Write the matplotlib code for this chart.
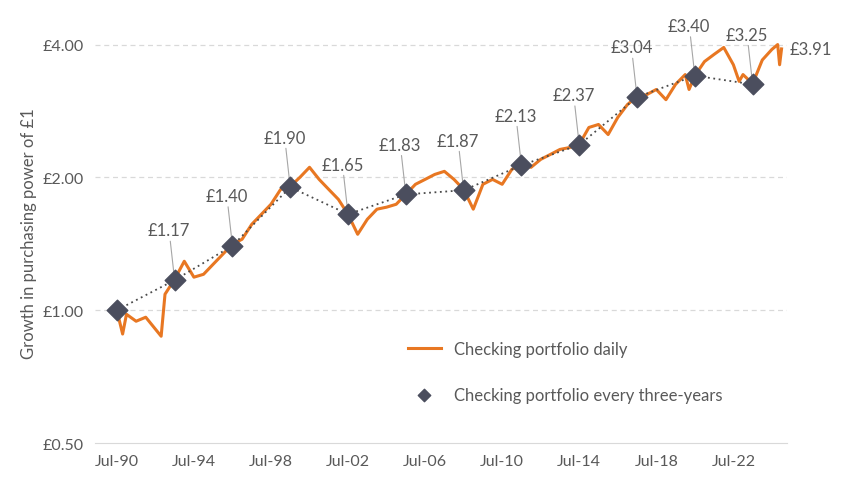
import matplotlib
matplotlib.use("Agg")
import matplotlib.pyplot as plt
from matplotlib.ticker import FixedLocator, NullLocator

# daily series (decimal years)
daily_t = [1990.5,1990.8,1991.0,1991.5,1992.0,1992.5,1992.8,1993.0,1993.5,1994.0,1994.5,1995.0,1995.5,
           1996.0,1996.5,1997.0,1997.5,1998.0,1998.5,1999.0,1999.5,2000.0,2000.5,2001.0,2001.5,2002.0,
           2002.5,2003.0,2003.5,2004.0,2004.5,2005.0,2005.5,2006.0,2006.5,2007.0,2007.5,2008.0,2008.5,
           2009.0,2009.3,2009.5,2010.0,2010.5,2011.0,2011.5,2012.0,2012.5,2013.0,2013.5,2014.0,2014.5,
           2015.0,2015.5,2016.0,2016.5,2017.0,2017.5,2018.0,2018.5,2019.0,2019.5,2020.0,2020.2,2020.5,
           2021.0,2021.5,2022.0,2022.5,2022.8,2023.0,2023.5,2024.0,2024.5,2024.8,2024.9,2025.0]
daily_v = [1.00,0.883,0.979,0.944,0.964,0.906,0.873,1.087,1.175,1.291,1.188,1.206,1.271,
           1.339,1.411,1.448,1.565,1.649,1.738,1.878,1.908,2.00,2.108,1.979,1.878,1.783,
           1.649,1.486,1.607,1.694,1.712,1.738,1.831,1.929,1.979,2.031,2.064,1.979,1.878,
           1.694,1.831,1.929,1.979,1.929,2.085,2.139,2.108,2.197,2.254,2.314,2.337,2.375,
           2.595,2.636,2.501,2.735,2.924,3.05,3.08,3.164,3.00,3.25,3.42,3.164,3.40,
           3.66,3.80,3.94,3.60,3.30,3.42,3.26,3.69,3.90,4.00,3.60,3.91]

tri_t = [1990.5,1993.5,1996.5,1999.5,2002.5,2005.5,2008.5,2011.5,2014.5,2017.5,2020.5,2023.5]
tri_v = [1.00,1.17,1.40,1.90,1.65,1.83,1.87,2.13,2.37,3.04,3.40,3.25]
tri_labels = ["", "£1.17","£1.40","£1.90","£1.65","£1.83","£1.87","£2.13","£2.37","£3.04","£3.40","£3.25"]
end_label = "£3.91"

xticks = [1990.5,1994.5,1998.5,2002.5,2006.5,2010.5,2014.5,2018.5,2022.5]
xticklabels = ["Jul-90","Jul-94","Jul-98","Jul-02","Jul-06","Jul-10","Jul-14","Jul-18","Jul-22"]
yticks = [0.5,1,2,4]
yticklabels = ["£0.50","£1.00","£2.00","£4.00"]

plt.rcParams['font.family'] = ['Lato', 'DejaVu Sans']
TXT = '#595959'
fig = plt.figure(figsize=(8.53,4.89), dpi=100)
ax = fig.add_axes([0.111, 0.092, 0.812, 0.861])
ax.set_yscale('log')
ax.set_ylim(0.5, 4.5)
ax.set_xlim(1989.35, 2025.3)
for y in [1,2,4]:
    ax.axhline(y, color='#d9d9d9', lw=0.9, ls=(0,(4,3)), zorder=0)

ax.plot(daily_t, daily_v, color='#E87722', lw=2.2, zorder=2, label='Checking portfolio daily')
ax.plot(tri_t, tri_v, color='#4a4a4a', lw=1.3, ls=(0,(1,2)), zorder=3)
ax.scatter(tri_t, tri_v, marker='D', s=110, color='#4b4e5e', zorder=4, label='Checking portfolio every three-years')

for t, v, l in zip(tri_t, tri_v, tri_labels):
    if not l:
        continue
    ax.annotate(l, (t, v), xytext=(-4, 30), textcoords='offset points', ha='center', va='bottom',
                fontsize=12, color=TXT,
                arrowprops=dict(arrowstyle='-', color='#a6a6a6', lw=0.8, shrinkA=0, shrinkB=6))
ax.annotate(end_label, (daily_t[-1], daily_v[-1]), xytext=(6, 0), textcoords='offset points',
            ha='left', va='center', fontsize=12, color=TXT)

ax.yaxis.set_major_locator(FixedLocator(yticks))
ax.yaxis.set_minor_locator(NullLocator())
ax.set_yticklabels(yticklabels)
ax.set_xticks(xticks)
ax.set_xticklabels(xticklabels)
ax.tick_params(length=0, labelsize=11.5, colors=TXT, pad=8)
for s in ['left','right','top']:
    ax.spines[s].set_visible(False)
ax.spines['bottom'].set_color('#d9d9d9')
ax.set_ylabel('Growth in purchasing power of £1', fontsize=12, color=TXT)

leg = ax.legend(loc='lower left', bbox_to_anchor=(0.43, 0.06), frameon=False, fontsize=12,
                labelspacing=1.8, handlelength=2.0, labelcolor=TXT)
leg.legend_handles[1].set_sizes([40])
fig.savefig('out.png', dpi=100)
